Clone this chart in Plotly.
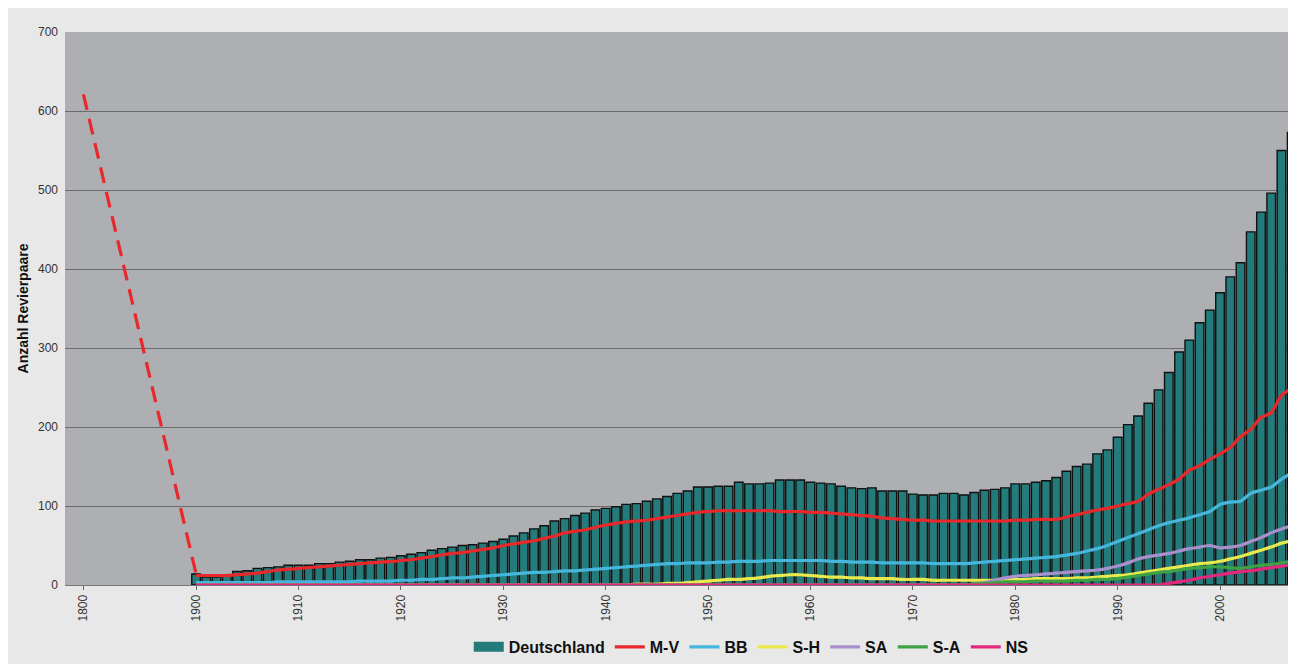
import plotly.graph_objects as go

# ---------------- data ----------------
years = list(range(1900, 2008))

deutschland = [
    14, 10, 10, 11, 17, 18, 21, 22, 23, 25,
    25, 25, 27, 27, 29, 30, 32, 32, 34, 35,
    37, 39, 41, 44, 46, 48, 50, 51, 53, 55,
    58, 62, 66, 71, 75, 81, 84, 88, 91, 95,
    97, 99, 102, 103, 106, 109, 112, 116, 119, 124,
    124, 125, 125, 130, 128, 128, 129, 133, 133, 133,
    130, 129, 128, 125, 123, 122, 123, 119, 119, 119,
    115, 114, 114, 116, 116, 114, 117, 120, 121, 123,
    128, 128, 130, 132, 136, 144, 150, 153, 166, 171,
    187, 203, 214, 230, 247, 269, 295, 310, 332, 348,
    370, 390, 408, 447, 472, 496, 550, 573,
]

mv = [
    12, 12, 12, 12, 13, 14, 15, 17, 19, 20,
    21, 22, 23, 24, 25, 26, 27, 28, 29, 29.5,
    31, 32, 34, 36, 38, 40, 41, 43, 45, 47,
    50, 52, 54, 56, 59, 62, 66, 68, 70, 73,
    76, 78, 80, 81, 82, 84, 86, 88, 90, 92,
    93, 94, 94, 94, 94, 94, 94, 93, 93, 93,
    92, 92, 91, 90, 89, 88, 87, 85, 84, 83,
    82, 82, 81, 81, 81, 81, 81, 81, 81, 81,
    82, 82, 83, 83, 83, 86, 89, 92, 95, 97,
    100, 103, 106, 115, 121, 127, 134, 145, 151, 159,
    166, 174, 188, 197, 212, 218, 240, 249,
]

bb = [
    3, 3, 3, 3, 3, 3, 3, 3, 4, 4,
    4, 4, 4, 4, 4, 4, 5, 5, 5, 5,
    6, 6, 7, 7, 8, 9, 9, 10, 11, 12,
    13, 14, 15, 16, 16, 17, 18, 18, 19, 20,
    21, 22, 23, 24, 25, 26, 27, 27, 28, 28,
    28, 29, 29, 30, 30, 30, 31, 31, 31, 31,
    31, 31, 30, 30, 29, 29, 29, 28, 28, 28,
    28, 28, 27, 27, 27, 27, 28, 29, 30, 31,
    32, 33, 34, 35, 36, 38, 40, 43, 46, 50,
    55, 60, 65, 70, 75, 79, 82, 85, 89, 93,
    102, 105, 106, 116, 120, 124, 134, 142,
]

sh = [
    0, 0, 0, 0, 0, 0, 0, 0, 0, 0,
    0, 0, 0, 0, 0, 0, 0, 0, 0, 0,
    0, 0, 0, 0, 0, 0, 0, 0, 0, 0,
    0, 0, 0, 0, 0, 0, 0, 0, 0, 0,
    0, 0, 0, 1, 1, 1, 2, 2, 3, 4,
    5, 6, 7, 7, 8, 9, 11, 12, 13, 13,
    12, 11, 10, 10, 9, 9, 8, 8, 8, 7,
    7, 7, 6, 6, 6, 6, 6, 6, 6, 7,
    7, 7, 8, 8, 8, 8, 9, 9, 10, 11,
    12, 13, 15, 17, 19, 21, 23, 25, 27, 28,
    30, 33, 36, 40, 44, 48, 53, 56,
]

sa = [0] * 76 + [
    1, 3, 6, 9,
    11, 12, 13, 14, 15, 16, 17, 18, 19, 21,
    24, 28, 33, 36, 38, 40, 43, 46, 48, 50,
    47, 48, 50, 55, 60, 66, 71, 75,
]

s_a = [0] * 76 + [
    1, 2, 3, 4,
    4, 4, 5, 5, 5, 5, 6, 6, 7, 7,
    8, 10, 12, 14, 16, 17, 19, 21, 22, 23,
    23, 22, 21, 23, 25, 26, 28, 30,
]

ns = [0] * 95 + [
    2, 4, 6, 9, 11,
    13, 15, 17, 18, 20, 22, 24, 25,
]

# historic estimate (dashed)
hist_years = [1800, 1900]
hist_values = [621, 14]

tick_years = [1800, 1900, 1910, 1920, 1930, 1940, 1950, 1960, 1970, 1980, 1990, 2000]

line_series = [
    ("M-V", mv, "#e8282b"),
    ("BB", bb, "#45b6dc"),
    ("S-H", sh, "#eaea4c"),
    ("SA", sa, "#a98fcb"),
    ("S-A", s_a, "#3da244"),
    ("NS", ns, "#e3287c"),
]

BAR_COLOR = "#237b7b"

# ---------------- broken axis mapping ----------------
BREAK_YEAR = 1900
PRE_BREAK_POS = 1889  # where 1800 is drawn on the compressed axis


def axis_pos(year):
    return year if year >= BREAK_YEAR else PRE_BREAK_POS


fig = go.Figure()

fig.add_trace(go.Bar(
    x=[axis_pos(y) for y in years], y=deutschland, name="Deutschland",
    marker=dict(color=BAR_COLOR, line=dict(color="#111111", width=1.4)),
    width=0.84, showlegend=False,
))

# legend entry for the bars (wide block symbol as in the original)
fig.add_trace(go.Scatter(
    x=[None], y=[None], name="Deutschland", mode="lines",
    line=dict(color=BAR_COLOR, width=10),
))

fig.add_trace(go.Scatter(
    x=[axis_pos(y) for y in hist_years], y=hist_values, mode="lines",
    line=dict(color="#e8282b", width=3.2, dash="16px,9px"),
    showlegend=False, hoverinfo="skip",
))

for name, vals, color in line_series:
    fig.add_trace(go.Scatter(
        x=[axis_pos(y) for y in years], y=vals, name=name, mode="lines",
        line=dict(color=color, width=3.2, shape="spline", smoothing=0.6),
    ))

fig.update_layout(
    width=1296, height=664,
    margin=dict(l=57, r=8, t=24, b=70),
    paper_bgcolor="#e8e8e8",
    plot_bgcolor="#adafb2",
    font=dict(family="Liberation Sans, Arial, sans-serif", color="#333333", size=12),
    bargap=0.16,
    showlegend=True,
    legend=dict(
        orientation="h", x=0.328, xanchor="left", y=-0.112, yanchor="middle",
        font=dict(size=16, color="#111111", weight="bold"),
        bgcolor="rgba(0,0,0,0)", itemwidth=30, tracegroupgap=0,
    ),
)

fig.update_xaxes(
    range=[1887.2, 2007.42],
    tickmode="array",
    tickvals=[axis_pos(y) for y in tick_years],
    ticktext=[str(y) for y in tick_years],
    tickangle=-90,
    ticks="outside", ticklen=4, tickcolor="#666666",
    showgrid=False, zeroline=False,
    showline=True, linecolor="#777777", linewidth=1,
    tickfont=dict(size=12, color="#333333"),
)

fig.update_yaxes(
    range=[0, 700],
    tickvals=[0, 100, 200, 300, 400, 500, 600, 700],
    showgrid=True, gridcolor="#6a6b6d", gridwidth=1,
    zeroline=False, showline=False,
    ticks="", ticklabelstandoff=6,
    tickfont=dict(size=12, color="#333333"),
    title=dict(text="<b>Anzahl Revierpaare</b>", font=dict(size=14, color="#111111"), standoff=6),
)

fig.write_html("out.html")
